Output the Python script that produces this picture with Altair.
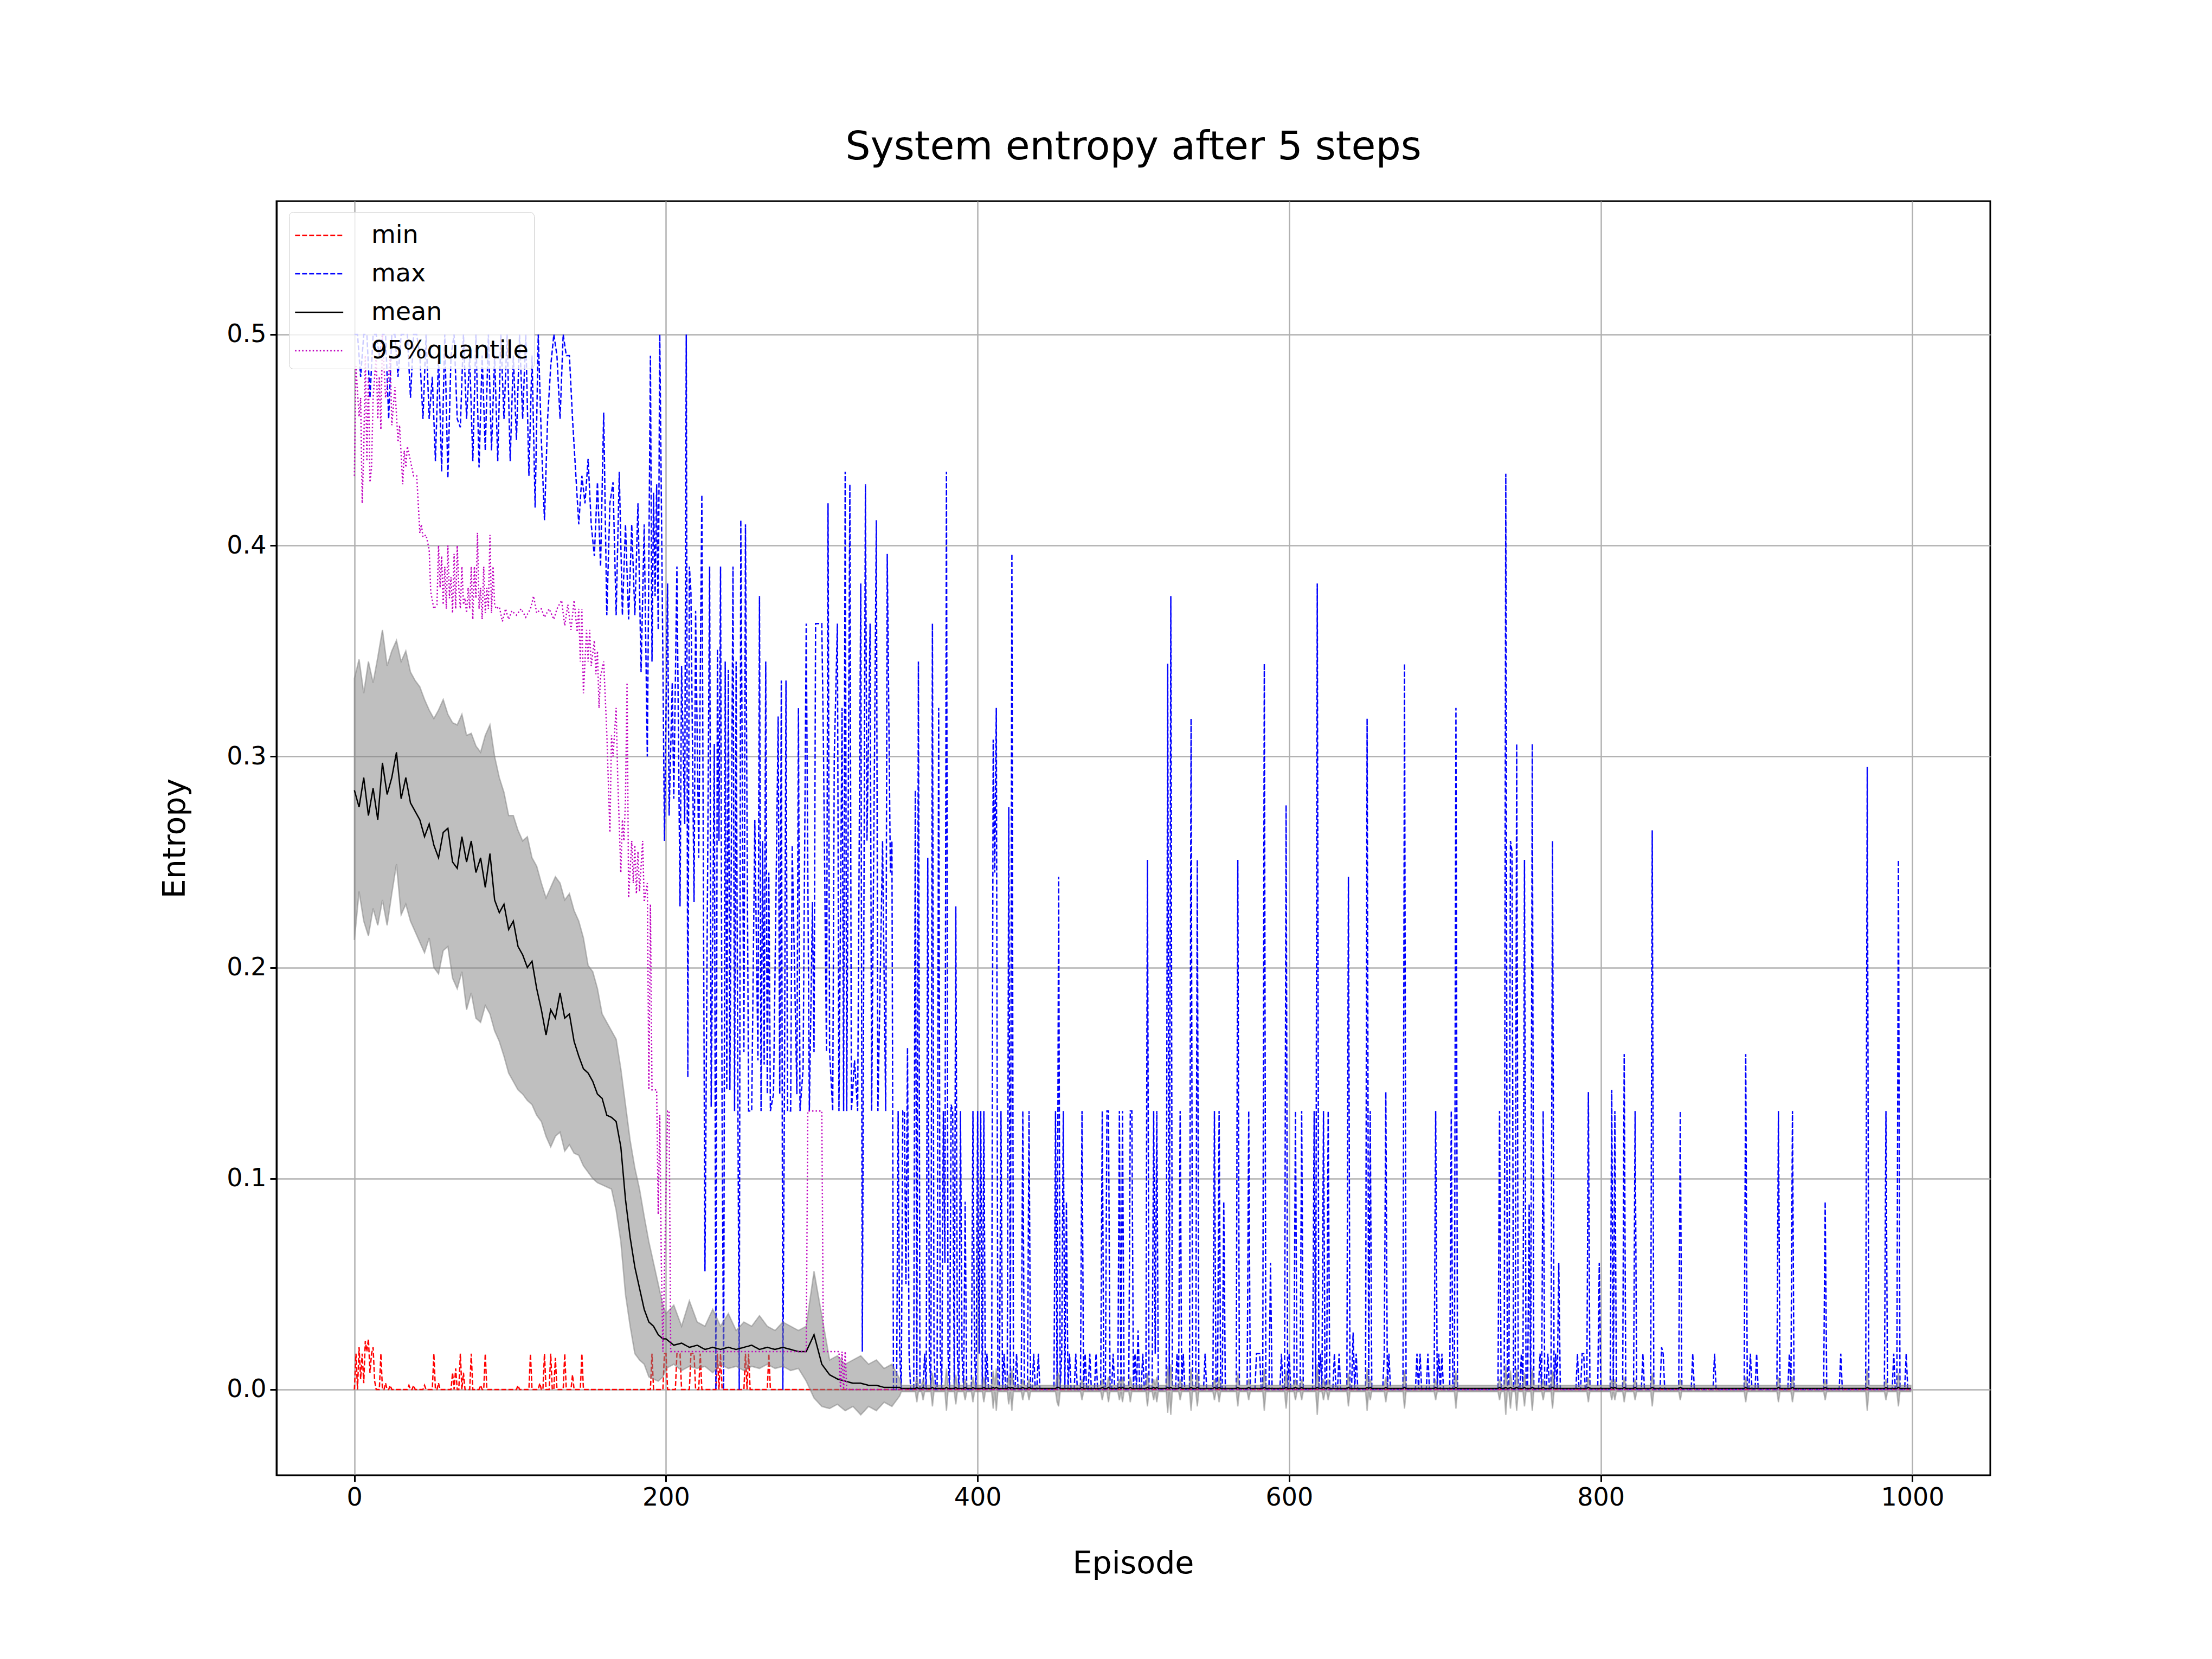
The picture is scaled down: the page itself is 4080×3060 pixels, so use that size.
import pandas as pd
import altair as alt

SERIES = ["min", "max", "mean", "95%quantile"]
COLORS = ["#ff0000", "#0000ff", "#000000", "#bf00bf"]
DASHES = [[9, 4], [9, 4], [1, 0], [2.5, 4]]

# --- min: zero almost everywhere, small spikes early on
min_spike_ep = [1, 3, 4, 5, 6, 7, 8, 9, 10, 11, 12, 13, 17, 20, 23, 35, 38, 45, 51, 54,
                63, 65, 68, 70, 75, 81, 84, 105, 113, 119, 122, 126, 129, 135, 140, 146,
                191, 199, 200, 207, 208, 209, 216, 217, 218, 222, 233, 235, 251, 253, 266]
min_spike_val = [0.017, 0.02, 0.005, 0.017, 0.003, 0.023, 0.018, 0.024, 0.008, 0.017, 0.02, 0.004,
                 0.017, 0.003, 0.002, 0.002, 0.002, 0.002, 0.017, 0.003, 0.008, 0.01, 0.017, 0.008,
                 0.017, 0.002, 0.017, 0.002, 0.017, 0.003, 0.017, 0.017, 0.015, 0.017, 0.007, 0.017,
                 0.017, 0.017, 0.017, 0.017, 0.017, 0.017, 0.017, 0.017, 0.017, 0.017, 0.017, 0.017,
                 0.017, 0.017, 0.017]

# --- max: dense part (every 2nd episode up to 190, then point by point)
max_early_ep = list(range(0, 191, 2)) + [
    191, 192, 193, 194, 195, 196, 198, 199, 201, 202, 204, 205, 207, 209, 210, 212, 213, 214,
    215, 216, 218, 219, 221, 223, 225, 228, 229, 231, 232, 233, 234, 235, 236, 237, 238, 239,
    240, 241, 243, 244, 245, 246, 247, 248, 250, 251, 253, 255, 257, 259, 260, 261, 262, 263,
    264, 265, 266, 267, 269, 272, 273, 274, 275, 276, 277, 278, 280, 281, 284, 285, 286, 288,
    290, 292, 294, 295, 296, 300, 301, 303, 304, 305, 307, 308, 310, 311, 313, 314, 315, 316,
    318, 319, 321, 323, 325, 326, 328, 329, 331, 332, 335, 336, 339, 341, 342, 344, 345]
max_early_val = [
    0.5, 0.5, 0.48, 0.5, 0.5, 0.47, 0.5, 0.5, 0.49, 0.5, 0.5, 0.46, 0.5, 0.5, 0.48, 0.5, 0.5,
    0.5, 0.47, 0.5, 0.5,
    0.49, 0.46, 0.5, 0.46, 0.48, 0.44, 0.49, 0.435, 0.5, 0.432, 0.49, 0.5, 0.46, 0.456, 0.5,
    0.46, 0.49, 0.44, 0.5, 0.437, 0.49, 0.445, 0.5, 0.445, 0.49, 0.44, 0.5, 0.46, 0.5, 0.44,
    0.49, 0.45, 0.5, 0.46, 0.5, 0.433, 0.49, 0.418, 0.5, 0.45,
    0.412, 0.46, 0.485, 0.5, 0.49, 0.46, 0.5, 0.49, 0.49, 0.46, 0.435, 0.41, 0.433, 0.42,
    0.441, 0.41, 0.395, 0.43, 0.39, 0.463, 0.367, 0.42, 0.43, 0.367, 0.435, 0.367, 0.41,
    0.365, 0.41, 0.367, 0.42, 0.34, 0.41, 0.30, 0.49,
    0.345, 0.425, 0.376, 0.429, 0.36, 0.5, 0.345, 0.26, 0.382, 0.272, 0.335, 0.28, 0.39, 0.229,
    0.343, 0.268, 0.5, 0.148, 0.39, 0.378, 0.231, 0.369, 0.252, 0.424, 0.056, 0.39, 0.134,
    0.306, 0.0, 0.351, 0.26, 0.39, 0.13, 0.0, 0.345, 0.142, 0.341, 0.142, 0.39, 0.132, 0.345,
    0.158, 0.0, 0.412, 0.16, 0.41, 0.132, 0.132, 0.27, 0.156, 0.376, 0.132, 0.26, 0.154, 0.345,
    0.14, 0.245, 0.132, 0.14, 0.319, 0.14, 0.336, 0.0, 0.14, 0.336, 0.132, 0.132, 0.258, 0.14,
    0.323, 0.132, 0.152, 0.363, 0.132, 0.231, 0.16, 0.363, 0.363, 0.308, 0.16, 0.42, 0.16,
    0.132, 0.30, 0.363, 0.132, 0.323, 0.132, 0.435, 0.132, 0.429, 0.132, 0.156, 0.132, 0.382,
    0.018, 0.429, 0.26, 0.363, 0.132, 0.412, 0.132, 0.26, 0.132, 0.396, 0.245, 0.26]

# max after episode 345: spikes on a zero floor
max_spike_ep = [
    349, 350, 352, 353, 354, 355, 356, 360, 362, 366, 368, 369, 371, 372, 375, 376, 378, 379,
    380, 381, 383, 384, 386, 387, 389, 390, 392, 397, 398, 400, 401, 402, 404, 406, 410, 411,
    412, 415, 417, 420, 422, 425, 429, 433, 436, 439, 450, 452, 454, 455, 457, 459, 463, 467,
    469, 472, 476, 480, 483, 484, 487, 491, 493, 498, 499, 501, 503, 506, 509, 513, 514, 515,
    522, 524, 528, 530, 532, 537, 541, 546, 552, 555, 558, 567, 574, 579, 580, 581, 584, 588,
    595, 598, 600, 604, 608, 616, 618, 620, 622, 625, 629, 632, 638, 641, 643, 650, 652, 661,
    662, 664, 674, 682, 684, 689, 694, 696, 698, 704, 707, 735, 739, 742, 743, 746, 749, 751,
    754, 756, 761, 763, 766, 769, 771, 773, 785, 788, 789, 792, 799, 807, 809, 815, 822, 827,
    833, 839, 840, 851, 859, 873, 893, 896, 900, 914, 921, 923, 944, 954, 971, 983, 988, 991,
    996]
max_spike_val = [
    0.132, 0.017, 0.132, 0.132, 0.05, 0.162, 0.017, 0.284, 0.345, 0.017, 0.252, 0.017, 0.363,
    0.017, 0.323, 0.017, 0.132, 0.06, 0.435, 0.017, 0.135, 0.132, 0.229, 0.017, 0.132, 0.017,
    0.089, 0.132, 0.017, 0.132, 0.017, 0.132, 0.132, 0.017, 0.308, 0.245, 0.323, 0.132, 0.017,
    0.276, 0.396, 0.017, 0.132, 0.132, 0.017, 0.017, 0.132, 0.243, 0.017, 0.132, 0.089, 0.017,
    0.017, 0.132, 0.017, 0.017, 0.017, 0.132, 0.132, 0.132, 0.017, 0.132, 0.132, 0.132, 0.132,
    0.017, 0.028, 0.017, 0.251, 0.132, 0.017, 0.132, 0.344, 0.376, 0.017, 0.132, 0.017, 0.318,
    0.251, 0.017, 0.132, 0.132, 0.089, 0.251, 0.132, 0.017, 0.017, 0.017, 0.344, 0.06, 0.017,
    0.277, 0.017, 0.132, 0.132, 0.132, 0.382, 0.017, 0.132, 0.132, 0.017, 0.017, 0.243, 0.027,
    0.017, 0.318, 0.132, 0.017, 0.141, 0.017, 0.344, 0.017, 0.017, 0.017, 0.132, 0.017, 0.017,
    0.132, 0.323, 0.132, 0.434, 0.26, 0.255, 0.306, 0.017, 0.251, 0.088, 0.306, 0.017, 0.132,
    0.017, 0.26, 0.017, 0.06, 0.017, 0.017, 0.017, 0.141, 0.06, 0.142, 0.132, 0.159, 0.132,
    0.017, 0.265, 0.02, 0.017, 0.132, 0.017, 0.017, 0.159, 0.017, 0.017, 0.132, 0.017, 0.132,
    0.089, 0.017, 0.295, 0.132, 0.017, 0.251, 0.017]

# --- 95% quantile breakpoints
q95_ep = [
    0, 1, 3, 4, 5, 6, 7, 8, 9, 10, 11, 12, 14, 15, 16, 17, 18, 20, 22, 23, 24, 26, 28, 29, 31,
    32, 33, 34, 36, 38, 40, 42, 43, 44, 46, 48, 49, 51, 53, 54, 55, 56, 57, 58, 59, 60, 61, 62,
    63, 64, 65, 66, 67, 68, 69, 70, 71, 72, 73, 74, 75, 76, 77, 78, 79, 80, 81, 82, 83, 84, 85,
    86, 87, 88, 89, 90, 91, 93, 95, 97, 99, 101, 104, 107, 110, 113, 115, 117, 120, 122, 125,
    128, 130, 133, 135, 137, 139, 141, 143, 144, 145, 146, 147, 149, 150, 151, 152, 154, 155,
    156, 157, 158, 160, 162, 164, 165, 166, 168, 169, 171, 172, 173, 174, 175, 176, 178, 179,
    180, 181, 182, 183, 185, 186, 188, 189, 190, 191, 194, 195, 196, 197, 198, 201, 202, 203,
    290, 291, 300, 301, 311, 312, 313, 314, 315, 316, 999]
q95_val = [
    0.433, 0.485, 0.461, 0.47, 0.42, 0.445, 0.49, 0.44, 0.48, 0.43, 0.437, 0.47, 0.49, 0.46,
    0.48, 0.455, 0.5, 0.47, 0.48, 0.49, 0.457, 0.475, 0.449, 0.457, 0.429, 0.445, 0.437, 0.447,
    0.44, 0.433, 0.433, 0.406, 0.41, 0.404, 0.405, 0.398, 0.378, 0.37, 0.372, 0.40, 0.38, 0.395,
    0.372, 0.39, 0.37, 0.4, 0.375, 0.385, 0.368, 0.396, 0.37, 0.4, 0.38, 0.37, 0.39, 0.372,
    0.375, 0.368, 0.38, 0.37, 0.39, 0.365, 0.39, 0.375, 0.406, 0.37, 0.38, 0.365, 0.39, 0.368,
    0.38, 0.37, 0.405, 0.368, 0.39, 0.372, 0.37, 0.371, 0.364, 0.37, 0.365, 0.369, 0.367, 0.37,
    0.366, 0.37, 0.376, 0.368, 0.37, 0.366, 0.37, 0.365, 0.37, 0.374, 0.362, 0.372, 0.36, 0.374,
    0.359, 0.37, 0.345, 0.37, 0.33, 0.36, 0.345, 0.36, 0.343, 0.355, 0.339, 0.35, 0.323, 0.338,
    0.345, 0.311, 0.264, 0.31, 0.3, 0.323, 0.29, 0.245, 0.27, 0.26, 0.28, 0.335, 0.233, 0.26,
    0.24, 0.258, 0.235, 0.255, 0.236, 0.26, 0.231, 0.24, 0.142, 0.23, 0.142, 0.142, 0.083, 0.13,
    0.06, 0.018, 0.132, 0.132, 0.018, 0.018, 0.132, 0.132, 0.018, 0.018, 0.0, 0.018, 0.0, 0.018,
    0.0, 0.0]

# --- mean and std band (early part read every 3rd / 5th episode)
band_ep = list(range(0, 199, 3)) + list(range(200, 351, 5))
mean_val = [
    0.284, 0.276, 0.29, 0.272, 0.285, 0.27, 0.297, 0.282, 0.29, 0.302,
    0.28, 0.29, 0.278, 0.274, 0.27, 0.262, 0.268, 0.258, 0.252, 0.264,
    0.266, 0.25, 0.247, 0.262, 0.25, 0.26, 0.245, 0.252, 0.238, 0.254,
    0.232, 0.226, 0.23, 0.218, 0.222, 0.21, 0.206, 0.2, 0.203, 0.19,
    0.18, 0.168, 0.18, 0.176, 0.188, 0.176, 0.178, 0.165, 0.158, 0.152,
    0.15, 0.146, 0.14, 0.138, 0.13, 0.129, 0.127, 0.115, 0.09, 0.072,
    0.058, 0.048, 0.038, 0.032, 0.03, 0.026, 0.024,
    0.024, 0.021, 0.022, 0.02, 0.021, 0.019, 0.02, 0.019, 0.02, 0.019,
    0.02, 0.021, 0.019, 0.02, 0.019, 0.02, 0.019, 0.018, 0.018, 0.026,
    0.012, 0.007, 0.005, 0.004, 0.003, 0.003, 0.002, 0.002, 0.001, 0.001, 0.001]
upper_val = [
    0.337, 0.346, 0.33, 0.345, 0.335, 0.347, 0.36, 0.343, 0.35, 0.355,
    0.345, 0.35, 0.34, 0.336, 0.333, 0.327, 0.322, 0.318, 0.322, 0.327,
    0.32, 0.316, 0.315, 0.32, 0.31, 0.311, 0.305, 0.302, 0.31, 0.315,
    0.3, 0.29, 0.283, 0.272, 0.272, 0.265, 0.26, 0.262, 0.252, 0.248,
    0.24, 0.233, 0.238, 0.243, 0.24, 0.232, 0.235, 0.227, 0.222, 0.214,
    0.201, 0.198, 0.19, 0.178, 0.174, 0.17, 0.166, 0.152, 0.135, 0.118,
    0.105, 0.095, 0.082, 0.07, 0.06, 0.05, 0.04,
    0.036, 0.04, 0.03, 0.042, 0.032, 0.03, 0.038, 0.03, 0.036, 0.028,
    0.032, 0.03, 0.035, 0.03, 0.028, 0.032, 0.03, 0.028, 0.03, 0.056,
    0.035, 0.014, 0.016, 0.012, 0.014, 0.016, 0.012, 0.014, 0.01, 0.012, 0.005]
lower_val = [
    0.213, 0.236, 0.222, 0.215, 0.228, 0.22, 0.232, 0.22, 0.235, 0.249,
    0.225, 0.23, 0.222, 0.217, 0.212, 0.207, 0.214, 0.2, 0.197, 0.208,
    0.21, 0.195, 0.19, 0.198, 0.18, 0.188, 0.176, 0.174, 0.182, 0.178,
    0.17, 0.165, 0.158, 0.15, 0.146, 0.142, 0.14, 0.137, 0.135, 0.13,
    0.127, 0.12, 0.115, 0.12, 0.122, 0.113, 0.116, 0.112, 0.111, 0.106,
    0.103, 0.1, 0.098, 0.097, 0.096, 0.095, 0.085, 0.07, 0.045, 0.03,
    0.017, 0.014, 0.012, 0.006, 0.005, 0.004, 0.006,
    0.01, 0.012, 0.009, 0.011, 0.01, 0.011, 0.008, 0.012, 0.01, 0.011,
    0.009, 0.011, 0.01, 0.012, 0.01, 0.011, 0.009, 0.01, 0.004, -0.004,
    -0.008, -0.009, -0.007, -0.01, -0.008, -0.012, -0.008, -0.01, -0.006, -0.008, -0.003]

# late episodes: mean ~0, band is a thin sliver with small blobs at spikes
late_mean, late_upper, late_lower = 0.0005, 0.002, -0.001
blob_ep = [361, 365, 371, 380, 386, 392, 397, 404, 410, 412, 420, 422, 429, 433, 451, 452, 467,
           480, 484, 491, 493, 498, 509, 513, 515, 522, 524, 530, 537, 541, 552, 555, 567, 574,
           584, 598, 604, 608, 618, 622, 625, 638, 650, 652, 662, 674, 694, 707, 735, 739, 742,
           746, 751, 756, 763, 769, 792, 807, 809, 815, 822, 833, 851, 893, 914, 923, 944, 971,
           983, 991]
blob_half = [0.006, 0.005, 0.008, 0.01, 0.007, 0.005, 0.006, 0.006, 0.009, 0.01, 0.007, 0.01,
             0.005, 0.005, 0.006, 0.008, 0.005, 0.005, 0.006, 0.005, 0.006, 0.006, 0.008, 0.005,
             0.006, 0.011, 0.012, 0.005, 0.01, 0.008, 0.005, 0.006, 0.008, 0.005, 0.01, 0.009,
             0.005, 0.005, 0.012, 0.005, 0.005, 0.008, 0.01, 0.005, 0.006, 0.009, 0.005, 0.009,
             0.005, 0.012, 0.009, 0.01, 0.008, 0.01, 0.005, 0.009, 0.006, 0.005, 0.005, 0.006,
             0.005, 0.008, 0.005, 0.006, 0.006, 0.006, 0.005, 0.01, 0.005, 0.008]

# ---------------------------------------------------------------- tables
min_full = [0.0] * 1000
for e, v in zip(min_spike_ep, min_spike_val):
    min_full[e] = v

late_eps = list(range(346, 1000))
max_late = {e: 0.0 for e in late_eps}
for e, v in zip(max_spike_ep, max_spike_val):
    max_late[e] = v

mean_late_eps = list(range(351, 1000))
blobs = dict(zip(blob_ep, blob_half))
m_ep = band_ep + mean_late_eps
m_mean = mean_val + [0.001 if e in blobs else late_mean for e in mean_late_eps]
m_up = upper_val + [blobs.get(e, late_upper) for e in mean_late_eps]
m_lo = lower_val + [-blobs[e] if e in blobs else late_lower for e in mean_late_eps]

lines = pd.concat([
    pd.DataFrame({"ep": range(1000), "value": min_full, "series": "min"}),
    pd.DataFrame({"ep": max_early_ep + late_eps,
                  "value": max_early_val + [max_late[e] for e in late_eps], "series": "max"}),
    pd.DataFrame({"ep": m_ep, "value": m_mean, "series": "mean"}),
    pd.DataFrame({"ep": q95_ep, "value": q95_val, "series": "95%quantile"}),
], ignore_index=True)
band = pd.DataFrame({"ep": m_ep, "lower": m_lo, "upper": m_up})

# ---------------------------------------------------------------- chart
FONT = "DejaVu Sans"
x_scale = alt.Scale(domain=[-50, 1049.95], nice=False, zero=False)
y_scale = alt.Scale(domain=[-0.0406, 0.5632], nice=False, zero=False)

x_axis = alt.Axis(values=[0, 200, 400, 600, 800, 1000], format="d", title="Episode",
                  titleX=1580, titleY=180, titleBaseline="alphabetic", titleAlign="center")
y_axis = alt.Axis(values=[0, 0.1, 0.2, 0.3, 0.4, 0.5], format=".1f", title="Entropy",
                  titleX=-170, titleY=1175, titleAngle=270, titleBaseline="alphabetic",
                  titleAlign="center")

color = alt.Color("series:N", scale=alt.Scale(domain=SERIES, range=COLORS),
                  legend=alt.Legend(title=None))
dash = alt.StrokeDash("series:N", scale=alt.Scale(domain=SERIES, range=DASHES),
                      legend=alt.Legend(title=None))


def line_layer(names):
    sub = lines[lines["series"].isin(names)]
    return alt.Chart(sub).mark_line(strokeWidth=2.5, clip=True).encode(
        x=alt.X("ep:Q", scale=x_scale, axis=x_axis),
        y=alt.Y("value:Q", scale=y_scale, axis=y_axis),
        color=color,
        strokeDash=dash,
        order=alt.Order("ep:Q"),
    )


band_layer = alt.Chart(band).mark_area(
    color="#808080", fillOpacity=0.5, stroke="#808080", strokeOpacity=0.5, strokeWidth=2.5,
    clip=True
).encode(
    x=alt.X("ep:Q", scale=x_scale, axis=x_axis),
    y=alt.Y("lower:Q", scale=y_scale, axis=y_axis),
    y2="upper:Q",
)

chart = alt.layer(
    line_layer(["min", "max"]),
    band_layer,
    line_layer(["mean", "95%quantile"]),
).properties(
    width=3161,
    height=2350,
    title=alt.TitleParams("System entropy after 5 steps", fontSize=73, font=FONT,
                          fontWeight="normal", color="black", offset=4,
                          baseline="alphabetic", anchor="middle"),
    padding={"left": 502, "top": 363, "right": 380, "bottom": 300},
    autosize=alt.AutoSizeParams(type="none"),
).configure(
    font=FONT,
).configure_view(
    stroke="black", strokeWidth=3,
).configure_axis(
    labelFont=FONT, labelFontSize=46, labelColor="black",
    titleFont=FONT, titleFontSize=57, titleFontWeight="normal", titleColor="black",
    domainColor="black", domainWidth=3,
    tickColor="black", tickWidth=3, tickSize=12, labelPadding=7,
    gridColor="#b0b0b0", gridWidth=2.5, grid=True,
).configure_legend(
    orient="none", legendX=23, legendY=20,
    padding=10, fillColor="rgba(255,255,255,0.8)", strokeColor="#cccccc",
    cornerRadius=8, labelFont=FONT, labelFontSize=46, labelColor="black", labelLimit=600,
    symbolType="M-1,0H1.8", symbolSize=4032, symbolStrokeWidth=2.5,
    labelOffset=76, rowPadding=15,
)

chart.save("out.html", embed_options={"renderer": "svg", "actions": False})
